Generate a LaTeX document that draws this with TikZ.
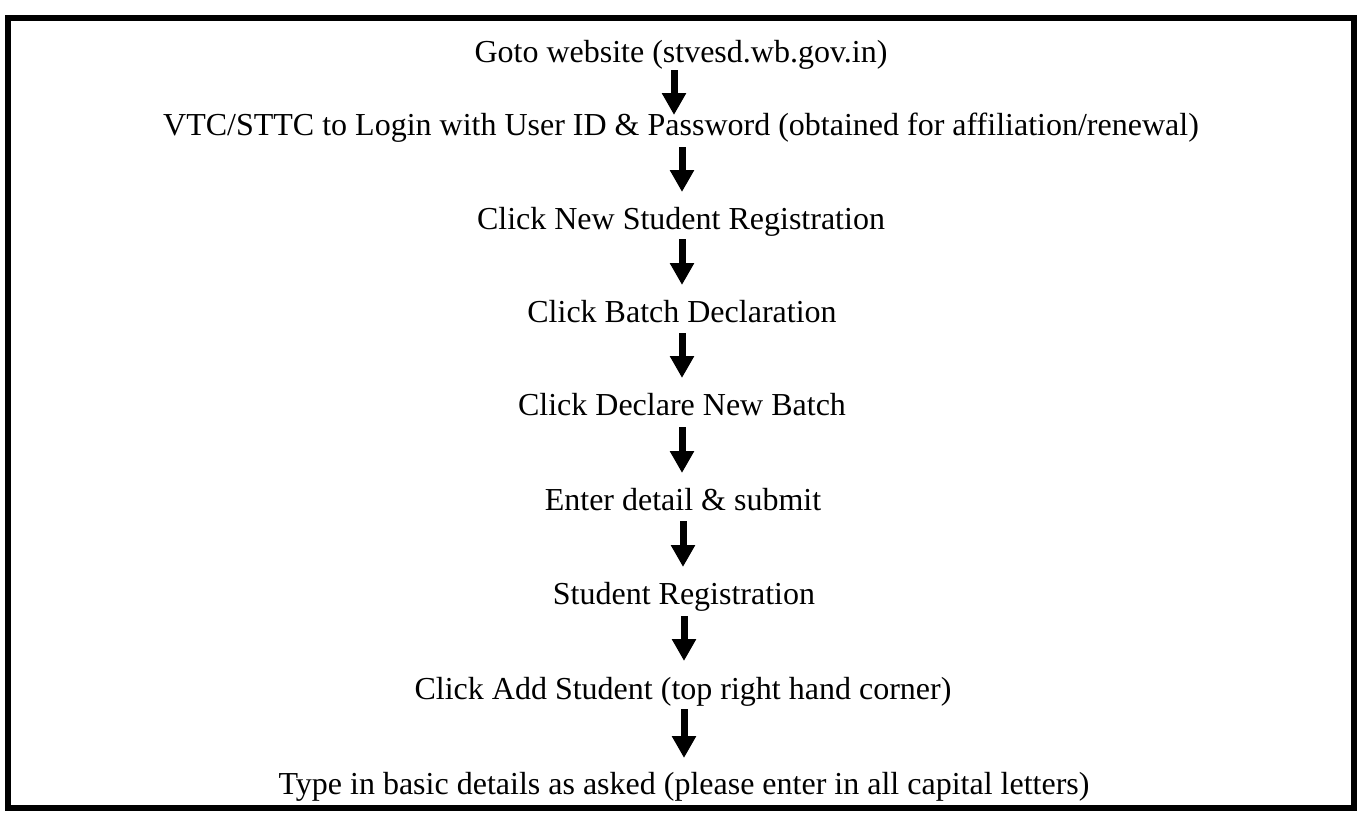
\documentclass[tikz,border=0pt]{standalone}
\usepackage{fontspec}
\setmainfont{Liberation Serif}
\usetikzlibrary{arrows.meta}
\begin{document}
\begin{tikzpicture}[x=0.5pt,y=-0.5pt,
  stepnode/.style={anchor=base,inner sep=0pt,font=\fontsize{16}{19}\selectfont},
  flow/.style={line width=3.5pt,-{Triangle[width=11.5pt,length=11pt]}},
  frame/.style={line width=3pt}]
\useasboundingbox (0,0) rectangle (1357,816);
\draw[frame] (8,18) rectangle (1354,808);
\node[stepnode] (s1) at (681,62) {Goto website (stvesd.wb.gov.in)};
\node[stepnode] (s2) at (681,135) {VTC/STTC to Login with User ID \& Password (obtained for affiliation/renewal)};
\node[stepnode] (s3) at (681,229) {Click New Student Registration};
\node[stepnode] (s4) at (682,322) {Click Batch Declaration};
\node[stepnode] (s5) at (682,415) {Click Declare New Batch};
\node[stepnode] (s6) at (683,510) {Enter detail \& submit};
\node[stepnode] (s7) at (684,604) {Student Registration};
\node[stepnode] (s8) at (683,699) {Click Add Student (top right hand corner)};
\node[stepnode] (s9) at (684,794) {Type in basic details as asked (please enter in all capital letters)};
\draw[flow] ([shift={(-7,8)}]s1.base) -- ([shift={(-7,-20)}]s2.base);
\draw[flow] ([shift={(1,12)}]s2.base) -- ([shift={(1,-37)}]s3.base);
\draw[flow] ([shift={(1,10)}]s3.base) -- ([shift={(0,-37)}]s4.base);
\draw[flow] ([shift={(0,11)}]s4.base) -- ([shift={(0,-37)}]s5.base);
\draw[flow] ([shift={(0,12)}]s5.base) -- ([shift={(-1,-37)}]s6.base);
\draw[flow] ([shift={(0,11)}]s6.base) -- ([shift={(-1,-37)}]s7.base);
\draw[flow] ([shift={(0,12)}]s7.base) -- ([shift={(1,-38)}]s8.base);
\draw[flow] ([shift={(1,10)}]s8.base) -- ([shift={(0,-36)}]s9.base);
\end{tikzpicture}
\end{document}
